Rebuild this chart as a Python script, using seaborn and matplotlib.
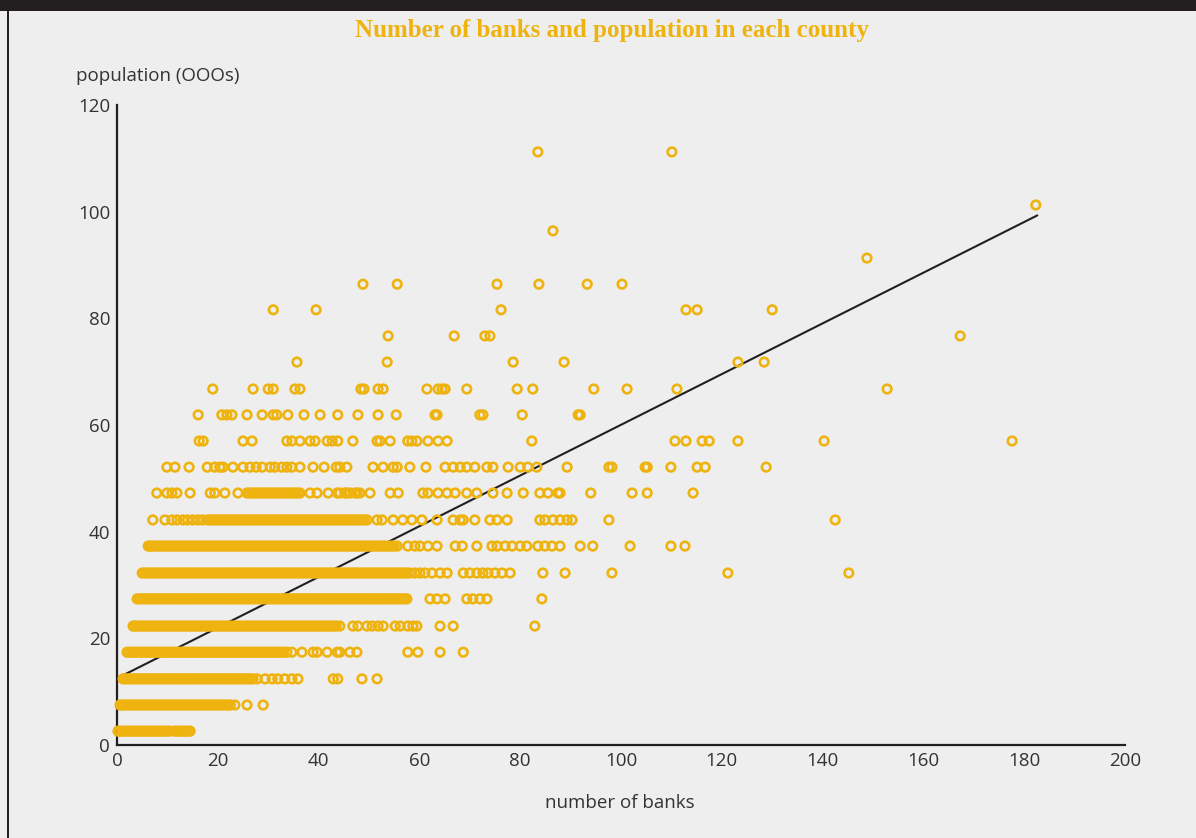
import matplotlib
matplotlib.use("Agg")
import matplotlib.pyplot as plt
from matplotlib.patches import Rectangle
import seaborn as sns
import pandas as pd

# ---------------- data ----------------
pop_levels = [2.6, 7.5, 12.4, 17.4, 22.3, 27.4, 32.25, 37.3, 42.2, 47.25, 52.1,
              57.0, 61.9, 66.75, 71.8, 76.7, 81.6, 86.4, 91.3, 96.4, 101.25, 111.2]

banks_pop03 = [0.2, 0.5, 1, 1.5, 2, 2.5, 3, 3.5, 4, 4.5, 5, 5.5, 6, 6.5, 7, 7.5, 8,
               8.5, 9, 9.5, 10, 10.5, 11.5, 12, 12.5, 13, 13.5, 14, 14.5]
banks_pop08 = [0.6, 1, 1.5, 2, 2.5, 3, 3.5, 4, 4.5, 5, 5.5, 6, 6.5, 7, 7.5, 8, 8.5,
               9, 9.5, 10, 10.5, 11, 11.5, 12, 12.5, 13, 13.5, 14, 14.5, 15, 15.5,
               16, 16.5, 17, 17.5, 18, 18.5, 19, 19.5, 20, 20.5, 21, 21.5, 22, 22.5,
               23.4, 25.8, 29.0]
banks_pop12 = [1.2, 1.5, 2, 2.5, 3, 3.5, 4, 4.5, 5, 5.5, 6, 6.5, 7, 7.5, 8, 8.5, 9,
               9.5, 10, 10.5, 11, 11.5, 12, 12.5, 13, 13.5, 14, 14.5, 15, 15.5, 16,
               16.5, 17, 17.5, 18, 18.5, 19, 19.5, 20, 20.5, 21, 21.5, 22, 22.5, 23,
               23.5, 24, 24.5, 25, 25.5, 26, 26.5, 27, 27.8, 29.4, 30.8, 31.9, 33.3,
               34.7, 35.9, 42.9, 43.8, 48.6, 51.6]
banks_pop17 = [2.0, 2.5, 3, 3.5, 4, 4.5, 5, 5.5, 6, 6.5, 7, 7.5, 8, 8.5, 9, 9.5, 10,
               10.5, 11, 11.5, 12, 12.5, 13, 13.5, 14, 14.5, 15, 15.5, 16, 16.5, 17,
               17.5, 18, 18.5, 19, 19.5, 20, 20.5, 21, 21.5, 22, 22.5, 23, 23.5, 24,
               24.5, 25, 25.5, 26, 26.5, 27, 27.5, 28, 28.5, 29, 29.5, 30, 30.5, 31,
               31.5, 32, 32.5, 33, 33.7, 34.7, 36.7, 38.9, 39.7, 41.7, 43.7, 44.2,
               46.2, 47.6, 57.7, 59.7, 64.1, 68.7]
banks_pop22 = [3.2, 3.5, 4, 4.5, 5, 5.5, 6, 6.5, 7, 7.5, 8, 8.5, 9, 9.5, 10, 10.5,
               11, 11.5, 12, 12.5, 13, 13.5, 14, 14.5, 15, 15.5, 16, 16.5, 17, 17.5,
               18, 18.5, 19, 19.5, 20, 20.5, 21, 21.5, 22, 22.5, 23, 23.5, 24, 24.5,
               25, 25.5, 26, 26.5, 27, 27.5, 28, 28.5, 29, 29.5, 30, 30.5, 31, 31.5,
               32, 32.5, 33, 33.5, 34, 34.5, 35, 35.5, 36, 36.5, 37, 37.5, 38, 38.5,
               39, 39.5, 40, 40.5, 41, 41.5, 42, 42.5, 43, 43.5, 44.2, 46.8, 47.8,
               49.6, 50.6, 51.8, 52.8, 55.2, 56.2, 57.7, 58.7, 59.5, 64.1, 66.7, 82.9]
banks_pop27 = [4.0, 4.5, 5, 5.5, 6, 6.5, 7, 7.5, 8, 8.5, 9, 9.5, 10, 10.5, 11, 11.5,
               12, 12.5, 13, 13.5, 14, 14.5, 15, 15.5, 16, 16.5, 17, 17.5, 18, 18.5,
               19, 19.5, 20, 20.5, 21, 21.5, 22, 22.5, 23, 23.5, 24, 24.5, 25, 25.5,
               26, 26.5, 27, 27.5, 28, 28.5, 29, 29.5, 30, 30.5, 31, 31.5, 32, 32.5,
               33, 33.5, 34, 34.5, 35, 35.5, 36, 36.5, 37, 37.5, 38, 38.5, 39, 39.5,
               40, 40.5, 41, 41.5, 42, 42.5, 43, 43.5, 44, 44.5, 45, 45.5, 46, 46.5,
               47, 47.5, 48, 48.5, 49, 49.5, 50, 50.5, 51, 51.5, 52, 52.5, 53, 53.5,
               54, 54.5, 55, 55.5, 56, 56.5, 57, 57.5, 62.1, 63.5, 65.1, 69.4, 70.6,
               72.0, 73.4, 84.3]
banks_pop32 = [5.0, 5.5, 6, 6.5, 7, 7.5, 8, 8.5, 9, 9.5, 10, 10.5, 11, 11.5, 12,
               12.5, 13, 13.5, 14, 14.5, 15, 15.5, 16, 16.5, 17, 17.5, 18, 18.5, 19,
               19.5, 20, 20.5, 21, 21.5, 22, 22.5, 23, 23.5, 24, 24.5, 25, 25.5, 26,
               26.5, 27, 27.5, 28, 28.5, 29, 29.5, 30, 30.5, 31, 31.5, 32, 32.5, 33,
               33.5, 34, 34.5, 35, 35.5, 36, 36.5, 37, 37.5, 38, 38.5, 39, 39.5, 40,
               40.5, 41, 41.5, 42, 42.5, 43, 43.5, 44, 44.5, 45, 45.5, 46, 46.5, 47,
               47.5, 48, 48.5, 49, 49.5, 50, 50.5, 51, 51.5, 52, 52.5, 53, 53.5, 54,
               54.5, 55, 55.5, 56, 56.5, 57, 57.5, 58.1, 59.1, 60.1, 61.1, 62.5, 64.1,
               65.5, 68.7, 70.0, 71.4, 72.6, 73.6, 75.0, 76.4, 78.0, 84.5, 88.9,
               98.2, 121.2, 145.2]
banks_pop37 = [6.2, 6.5, 7, 7.5, 8, 8.5, 9, 9.5, 10, 10.5, 11, 11.5, 12, 12.5, 13,
               13.5, 14, 14.5, 15, 15.5, 16, 16.5, 17, 17.5, 18, 18.5, 19, 19.5, 20,
               20.5, 21, 21.5, 22, 22.5, 23, 23.5, 24, 24.5, 25, 25.5, 26, 26.5, 27,
               27.5, 28, 28.5, 29, 29.5, 30, 30.5, 31, 31.5, 32, 32.5, 33, 33.5, 34,
               34.5, 35, 35.5, 36, 36.5, 37, 37.5, 38, 38.5, 39, 39.5, 40, 40.5, 41,
               41.5, 42, 42.5, 43, 43.5, 44, 44.5, 45, 45.5, 46, 46.5, 47, 47.5, 48,
               48.5, 49, 49.5, 50, 50.5, 51, 51.5, 52, 52.5, 53, 53.5, 54, 54.5, 55,
               55.6, 57.7, 59.1, 60.1, 61.7, 63.5, 67.1, 68.5, 71.4, 74.4, 75.4,
               77.0, 78.4, 80.0, 81.3, 83.5, 84.9, 86.3, 87.9, 91.9, 94.4, 101.8,
               109.9, 112.7]
banks_pop42 = [7.1, 9.5, 10.9, 11.9, 13.1, 14, 15, 16, 17, 18, 18.5, 19, 19.5, 20,
               20.5, 21, 21.5, 22, 22.5, 23, 23.5, 24, 24.5, 25, 25.5, 26, 26.5, 27,
               27.5, 28, 28.5, 29, 29.5, 30, 30.5, 31, 31.5, 32, 32.5, 33, 33.5, 34,
               34.5, 35, 35.5, 36, 36.5, 37, 37.5, 38, 38.5, 39, 39.5, 40, 40.5, 41,
               41.5, 42, 42.5, 43, 43.5, 44, 44.5, 45, 45.5, 46, 46.5, 47, 47.5, 48,
               48.5, 49, 49.6, 51.6, 52.6, 54.8, 56.7, 58.5, 60.5, 63.5, 66.7, 68.1,
               68.7, 71.0, 74.0, 75.4, 77.4, 83.9, 84.9, 86.5, 87.9, 89.3, 90.3,
               97.6, 142.5]
banks_pop47 = [7.9, 9.9, 10.9, 11.9, 14.5, 18.5, 19.4, 21.4, 24.0, 25.8, 26.3, 26.8,
               27.3, 27.8, 28.3, 28.8, 29.3, 29.8, 30.3, 30.8, 31.3, 31.8, 32.3,
               32.8, 33.3, 33.8, 34.3, 34.8, 35.3, 35.8, 36.3, 38.3, 39.7, 41.9,
               43.7, 44.2, 45.2, 45.6, 46.2, 47.2, 47.6, 48.2, 50.2, 54.2, 55.8,
               60.7, 61.7, 63.7, 65.5, 67.1, 69.4, 71.4, 74.6, 77.4, 80.6, 83.9,
               85.5, 87.5, 87.9, 94.0, 102.2, 105.2, 114.3]
banks_pop52 = [9.9, 11.5, 14.3, 17.9, 19.4, 20.4, 21.0, 23.0, 25.0, 26.4, 27.6, 28.8,
               30.4, 31.3, 32.7, 33.7, 34.7, 36.3, 38.9, 41.1, 43.5, 44.2, 45.6,
               50.8, 52.8, 54.8, 55.6, 58.1, 61.3, 65.1, 66.7, 68.1, 69.4, 71.0,
               73.4, 74.6, 77.6, 80.0, 81.5, 83.3, 89.3, 97.6, 98.2, 104.8, 105.2,
               109.9, 115.1, 116.7, 128.8]
banks_pop57 = [16.3, 17.1, 25.0, 26.8, 33.7, 34.7, 36.3, 38.3, 39.3, 41.7, 42.7,
               43.8, 46.8, 51.6, 52.2, 54.2, 57.7, 58.5, 59.5, 61.7, 63.7, 65.5,
               82.3, 110.7, 112.9, 116.1, 117.5, 123.2, 140.3, 177.6]
banks_pop62 = [16.1, 20.8, 21.8, 22.8, 25.8, 28.8, 31.0, 31.7, 33.9, 37.1, 40.3,
               43.8, 47.8, 51.8, 55.4, 63.1, 63.5, 72.0, 72.6, 80.4, 91.5, 91.9]
banks_pop67 = [19.0, 27.0, 30.0, 31.0, 35.3, 36.3, 48.4, 49.0, 51.8, 52.8, 61.5,
               63.7, 64.5, 65.1, 69.4, 79.4, 82.5, 94.6, 101.2, 111.1, 152.8]
banks_pop72 = [35.7, 53.6, 78.6, 88.7, 123.2, 128.4]
banks_pop77 = [53.8, 66.9, 73.0, 74.0, 167.3]
banks_pop82 = [31.0, 39.5, 76.2, 112.9, 115.1, 130.0]
banks_pop86 = [48.8, 55.6, 75.4, 83.7, 93.3, 100.2]
banks_pop91 = [148.8]
banks_pop96 = [86.5]
banks_pop101 = [182.3]
banks_pop111 = [83.5, 110.1]

banks_by_level = [banks_pop03, banks_pop08, banks_pop12, banks_pop17, banks_pop22,
                  banks_pop27, banks_pop32, banks_pop37, banks_pop42, banks_pop47,
                  banks_pop52, banks_pop57, banks_pop62, banks_pop67, banks_pop72,
                  banks_pop77, banks_pop82, banks_pop86, banks_pop91, banks_pop96,
                  banks_pop101, banks_pop111]

# fitted line end points
fit_banks = [0.0, 182.6]
fit_pop = [12.5, 99.3]

x_ticks = [0, 20, 40, 60, 80, 100, 120, 140, 160, 180, 200]
y_ticks = [0, 20, 40, 60, 80, 100, 120]

title_text = "Number of banks and population in each county"
x_label = "number of banks"
y_label = "population (OOOs)"

# ---------------- build table ----------------
rows = []
for lvl, xs in zip(pop_levels, banks_by_level):
    for xv in xs:
        rows.append((xv, lvl))
df = pd.DataFrame(rows, columns=["banks", "population"])
fit_df = pd.DataFrame({"banks": fit_banks, "population": fit_pop})

# ---------------- styling ----------------
BG = "#edeeed"
GOLD = "#efb30f"
INK = "#231f20"
TXT = "#333333"

sns.set_theme(style="white")
plt.rcParams["font.family"] = ["Open Sans", "DejaVu Sans"]

fig = plt.figure(figsize=(11.96, 8.38), dpi=100, facecolor=BG)
ax = fig.add_axes([117 / 1196, 1 - 745 / 838, (1125 - 117) / 1196, (745 - 105) / 838])
ax.set_facecolor(BG)

sns.lineplot(data=fit_df, x="banks", y="population", ax=ax, color=INK,
             linewidth=1.5, zorder=2)
sns.scatterplot(data=df, x="banks", y="population", ax=ax, s=38,
                marker="o", linewidth=1.9, zorder=3, legend=False)
pts = ax.collections[-1]
pts.set_facecolor("none")
pts.set_edgecolor(GOLD)
pts.set_clip_on(False)

ax.set_xlim(0, 200)
ax.set_ylim(0, 120)
ax.set_xticks(x_ticks)
ax.set_yticks(y_ticks)
ax.set_xlabel("")
ax.set_ylabel("")

for s in ["top", "right"]:
    ax.spines[s].set_visible(False)
for s in ["left", "bottom"]:
    ax.spines[s].set_color(INK)
    ax.spines[s].set_linewidth(1.6)

ax.tick_params(axis="both", direction="in", length=5, width=1.4, color=INK,
               labelsize=13.5, labelcolor=TXT)
ax.tick_params(axis="x", pad=5)
ax.tick_params(axis="y", pad=5)

fig.text(612 / 1196, 1 - 30 / 838, title_text, ha="center", va="center",
         fontsize=18, fontweight="bold", color=GOLD,
         family=["Liberation Serif", "DejaVu Serif"])
fig.text(76 / 1196, 1 - 76 / 838, y_label, ha="left", va="center",
         fontsize=13.5, color=TXT)
fig.text(620 / 1196, 1 - 803 / 838, x_label, ha="center", va="center",
         fontsize=13.5, color=TXT)

# frame: dark top bar and left rule
fig.add_artist(Rectangle((0, 1 - 11 / 838), 1, 11 / 838, transform=fig.transFigure,
                         facecolor=INK, edgecolor="none", zorder=10))
fig.add_artist(Rectangle((7 / 1196, 0), 2.2 / 1196, 1, transform=fig.transFigure,
                         facecolor=INK, edgecolor="none", zorder=10))

fig.savefig("out.png", dpi=100, facecolor=BG)
